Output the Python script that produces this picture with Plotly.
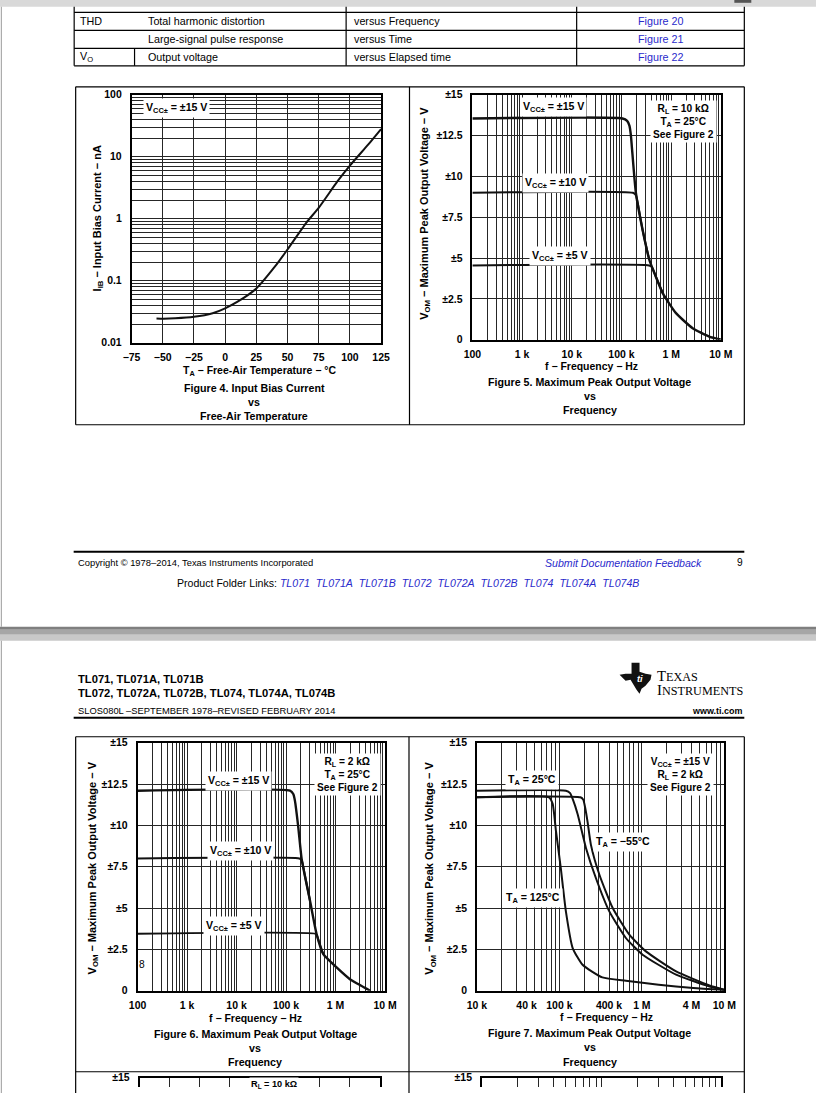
import plotly.graph_objects as go

W, H = 816, 1093

# The returned picture shows the window slightly shrunk and shifted
# (picture = 9.2 + 0.975*x, 5.2 + 0.990*y); positions below are written in
# reference-picture pixels and mapped back to window pixels by wx / wy.
SX, OX = 0.975, 9.2
SY, OY = 0.990, 5.2
FS = 1.0 / ((SX + SY) / 2)  # font scale compensation

# ------------------------------------------------------------------ data
# Figure 4: input bias current vs free-air temperature
fig4_temp_c = [-55, -50, -40, -25, -10, 0, 10, 25, 40, 50, 65, 75, 90, 100, 115, 125]
fig4_ib_na = [0.0247, 0.0245, 0.0248, 0.0262, 0.030, 0.036, 0.046, 0.075, 0.17, 0.32,
              0.86, 1.5, 4.0, 7.2, 16.0, 28.0]

# Figure 5: max peak output voltage vs frequency, RL = 10 kOhm
fig5_f_15 = [100, 1.05e5, 1.3e5, 1.45e5, 1.55e5, 1.62e5, 1.95e5, 2.67e5, 3.63e5, 4.44e5,
             6.76e5, 1.25e6, 2.7e6, 5.8e6, 1e7]
fig5_v_15 = [13.55, 13.55, 13.4, 13.1, 12.5, 11.8, 9.0, 6.7, 4.9, 4.2, 2.86, 1.63, 0.71, 0.2, 0.02]
fig5_f_10 = [100, 1.7e5, 1.95e5, 2.15e5, 2.67e5, 3.63e5]
fig5_v_10 = [9.0, 9.0, 8.85, 8.3, 6.7, 4.9]
fig5_f_5 = [100, 3.6e5, 4.1e5, 4.6e5, 6.76e5]
fig5_v_5 = [4.55, 4.55, 4.45, 4.1, 2.86]

# Figure 6: max peak output voltage vs frequency, RL = 2 kOhm
fig6_f_15 = [100, 1.2e5, 1.4e5, 1.51e5, 1.77e5, 2.07e5, 3.05e5, 4.15e5, 5.66e5, 1.05e6,
             1.95e6, 3.3e6, 5e6]
fig6_v_15 = [12.1, 12.1, 11.9, 11.5, 9.87, 7.95, 5.44, 3.42, 2.21, 1.41, 0.70, 0.3, 0.0]
fig6_f_10 = [100, 1.85e5, 2.07e5, 2.4e5, 3.05e5]
fig6_v_10 = [8.0, 8.0, 7.9, 6.99, 5.44]
fig6_f_5 = [100, 3.9e5, 4.2e5, 4.6e5, 5.66e5]
fig6_v_5 = [3.45, 3.45, 3.35, 3.0, 2.21]

# Figure 7: max peak output voltage vs frequency at three temperatures
fig7_f_25 = [1e4, 1.2e5, 1.35e5, 1.45e5, 1.67e5, 2.1e5, 2.77e5, 4.03e5, 6.4e5, 1.02e6,
             2.6e6, 6.6e6, 1e7]
fig7_v_25 = [12.1, 12.1, 11.95, 11.6, 10.66, 8.64, 6.82, 4.8, 3.19, 2.18, 0.97, 0.26, 0.05]
fig7_f_m55 = [1e4, 1.8e5, 1.95e5, 2.05e5, 2.2e5, 2.41e5, 3.05e5, 4.43e5, 7.05e5, 1.12e6,
              2.6e6, 6.6e6, 1e7]
fig7_v_m55 = [11.7, 11.7, 11.55, 11.1, 10.2, 8.84, 7.03, 5.0, 3.39, 2.38, 1.17, 0.32, 0.06]
fig7_f_125 = [1e4, 7.5e4, 8.3e4, 9.1e4, 1.04e5, 1.2e5, 1.45e5, 1.91e5, 3.32e5, 6.4e5,
              1.6e6, 4.2e6, 1e7]
fig7_v_125 = [11.7, 11.7, 11.3, 9.65, 7.43, 4.8, 2.58, 1.57, 0.81, 0.6, 0.36, 0.16, 0.04]

# tick labels
temp_ticks = [-75, -50, -25, 0, 25, 50, 75, 100, 125]
ib_labels = [(0.01, "0.01"), (0.1, "0.1"), (1, "1"), (10, "10"), (100, "100")]
vom_tickvals = [0, 2.5, 5, 7.5, 10, 12.5, 15]
vom_ticktext = ["0", "±2.5", "±5", "±7.5", "±10", "±12.5", "±15"]
freq_labels_5dec = [(100, "100"), (1e3, "1 k"), (1e4, "10 k"), (1e5, "100 k"), (1e6, "1 M"), (1e7, "10 M")]
freq_labels_fig7 = [(1e4, "10 k"), (4e4, "40 k"), (1e5, "100 k"), (4e5, "400 k"), (1e6, "1 M"),
                    (4e6, "4 M"), (1e7, "10 M")]

# ------------------------------------------------------------------ helpers
FONT = "Liberation Sans"
BLUE = "#2a2acb"
TICK = 10.3     # tick label size
LAB = 10.4      # in-plot label size
YT = 10.8       # y-axis title size
XT = 10.3       # x-axis title size
CAP = 10.5      # caption size


def wx(p):
    return (p - OX) / SX


def wy(p):
    return (p - OY) / SY


def fx(p):
    return wx(p) / W


def fy(p):
    return 1 - wy(p) / H


def log_ticks(d_lo, d_hi, labels):
    vals = []
    for d in range(d_lo, d_hi):
        for m in range(1, 10):
            vals.append(m * 10.0 ** d)
    vals.append(10.0 ** d_hi)
    texts = []
    for v in vals:
        t = ""
        for k, lab in labels:
            if abs(v - k) / k < 1e-6:
                t = lab
        texts.append(t)
    return vals, texts


def axis_common(**kw):
    d = dict(showline=True, linecolor="black", linewidth=1.5, mirror=True,
             showgrid=True, gridcolor="#262626", gridwidth=1, ticks="",
             zeroline=False, fixedrange=True, tickangle=0,
             tickfont=dict(family=FONT, size=TICK * FS, color="black", weight="bold"))
    d.update(kw)
    return d


annotations = []


def ann(x, y, text, size=9.5, xanchor="center", color="black", bg=None, angle=0,
        family=FONT, yanchor="middle", pad=1):
    a = dict(x=fx(x), y=fy(y), xref="paper", yref="paper", text=text, showarrow=False,
             xanchor=xanchor, yanchor=yanchor, textangle=angle,
             font=dict(family=family, size=size * FS, color=color))
    if bg:
        a["bgcolor"] = bg
        a["borderpad"] = pad
    annotations.append(a)


shapes = []


def rect(x0, y0, x1, y1, color):
    shapes.append(dict(type="rect", xref="paper", yref="paper", x0=fx(x0), x1=fx(x1),
                       y0=fy(y0), y1=fy(y1), fillcolor=color, line=dict(width=0), layer="below"))


def line(x0, y0, x1, y1, width=1, color="black"):
    shapes.append(dict(type="line", xref="paper", yref="paper", x0=fx(x0), x1=fx(x1),
                       y0=fy(y0), y1=fy(y1), line=dict(color=color, width=width), layer="above"))


# ------------------------------------------------------------------ figure
fig = go.Figure()

LW = 2.0
LINE = dict(color="#111111", width=LW, shape="spline", smoothing=0.5)


def add(x, y, xa, ya, width=LW):
    ln = dict(LINE)
    ln["width"] = width
    fig.add_trace(go.Scatter(x=x, y=y, mode="lines", line=ln, xaxis=xa, yaxis=ya,
                             hoverinfo="skip", showlegend=False))


add(fig4_temp_c, fig4_ib_na, "x", "y")
add(fig5_f_15, fig5_v_15, "x2", "y2", 2.4)
add(fig5_f_10, fig5_v_10, "x2", "y2")
add(fig5_f_5, fig5_v_5, "x2", "y2")
add(fig6_f_15, fig6_v_15, "x3", "y3", 2.4)
add(fig6_f_10, fig6_v_10, "x3", "y3")
add(fig6_f_5, fig6_v_5, "x3", "y3")
add(fig7_f_25, fig7_v_25, "x4", "y4")
add(fig7_f_m55, fig7_v_m55, "x4", "y4")
add(fig7_f_125, fig7_v_125, "x4", "y4")
# empty traces to realise the two partially visible charts at the bottom
fig.add_trace(go.Scatter(x=[None], y=[None], xaxis="x5", yaxis="y5", showlegend=False))
fig.add_trace(go.Scatter(x=[None], y=[None], xaxis="x6", yaxis="y6", showlegend=False))

ib_vals, ib_text = log_ticks(-2, 2, ib_labels)
f5_vals, f5_text = log_ticks(2, 7, freq_labels_5dec)
f7_vals, f7_text = log_ticks(4, 7, freq_labels_fig7)
fb_vals, fb_text = log_ticks(2, 4, [])

ref_bottom = OY + SY * H  # picture row of the window bottom
bottom_lo = 15 - (ref_bottom - 1078) / 16.5

layout = dict(
    width=W, height=H, margin=dict(l=0, r=0, t=0, b=0),
    paper_bgcolor="white", plot_bgcolor="white", showlegend=False,
    xaxis=axis_common(domain=[fx(131), fx(381)], range=[-75, 125], anchor="y",
                      tickmode="array", tickvals=temp_ticks, ticktext=[str(t).replace("-", "−") for t in temp_ticks],
                      ticklabelstandoff=4),
    yaxis=axis_common(domain=[fy(343), fy(95)], type="log", range=[-2, 2], anchor="x",
                      tickmode="array", tickvals=ib_vals, ticktext=ib_text, ticklabelstandoff=6),
    xaxis2=axis_common(domain=[fx(472.5), fx(721.5)], type="log", range=[2, 7], anchor="y2",
                       tickmode="array", tickvals=f5_vals, ticktext=f5_text, ticklabelstandoff=4),
    yaxis2=axis_common(domain=[fy(340), fy(95)], range=[0, 15], anchor="x2",
                       tickmode="array", tickvals=vom_tickvals, ticktext=vom_ticktext, ticklabelstandoff=6),
    xaxis3=axis_common(domain=[fx(137), fx(385)], type="log", range=[2, 7], anchor="y3",
                       tickmode="array", tickvals=f5_vals, ticktext=f5_text, ticklabelstandoff=4),
    yaxis3=axis_common(domain=[fy(991), fy(743)], range=[0, 15], anchor="x3",
                       tickmode="array", tickvals=vom_tickvals, ticktext=vom_ticktext, ticklabelstandoff=6),
    xaxis4=axis_common(domain=[fx(477), fx(725)], type="log", range=[4, 7], anchor="y4",
                       tickmode="array", tickvals=f7_vals, ticktext=f7_text, ticklabelstandoff=4),
    yaxis4=axis_common(domain=[fy(991), fy(743)], range=[0, 15], anchor="x4",
                       tickmode="array", tickvals=vom_tickvals, ticktext=vom_ticktext, ticklabelstandoff=6),
    xaxis5=axis_common(domain=[fx(139), fx(380)], range=[0, 8], anchor="y5", side="top",
                       mirror=False, dtick=1, showticklabels=False),
    yaxis5=axis_common(domain=[0, fy(1078)], range=[bottom_lo, 15], anchor="x5",
                       tickmode="array", tickvals=[15], ticktext=["±15"], ticklabelstandoff=6),
    xaxis6=axis_common(domain=[fx(482), fx(722)], type="log", range=[2, 4], anchor="y6", side="top",
                       mirror=False, tickmode="array", tickvals=fb_vals, ticktext=fb_text,
                       showticklabels=False),
    yaxis6=axis_common(domain=[0, fy(1078)], range=[bottom_lo, 15], anchor="x6",
                       tickmode="array", tickvals=[15], ticktext=["±15"], ticklabelstandoff=6),
)

# ------------------------------------------------------------------ page decoration
rect(-20, -20, 840, 7, "#d9d9d9")
rect(735, -20, 752, 3, "#555555")
# gap between the two pages
rect(-20, 627, 840, 630, "#7f7f7f")
rect(-20, 630, 840, 635, "#a6a6a6")
rect(-20, 635, 840, 641, "#c8c8c8")
line(0.5, 7, 0.5, 627, 1, "#9a9a9a")
line(0.5, 641, 0.5, 1100, 1, "#9a9a9a")

# table at the top of page 1
for yy in [12.5, 30.5, 48.5, 66]:
    line(73.5, yy, 745, yy, 1.2)
for xx in [73.5, 346, 577, 745]:
    line(xx, 7, xx, 66, 1.2)
line(134, 48.5, 134, 66, 1.2)
TS = 10.6
ann(77, 21, "THD", TS, "left")
ann(145, 21, "Total harmonic distortion", TS, "left")
ann(352, 21, "versus Frequency", TS, "left")
ann(661, 21, "Figure 20", TS, color=BLUE)
ann(145, 39, "Large-signal pulse response", TS, "left")
ann(352, 39, "versus Time", TS, "left")
ann(661, 39, "Figure 21", TS, color=BLUE)
ann(77, 57, "V<sub>O</sub>", TS, "left")
ann(145, 57, "Output voltage", TS, "left")
ann(352, 57, "versus Elapsed time", TS, "left")
ann(661, 57, "Figure 22", TS, color=BLUE)

# page-1 figure panel frame
line(75, 87, 745, 87, 1.2)
line(75, 425, 745, 425, 1.2)
for xx in [75, 409.5, 745]:
    line(xx, 87, xx, 425, 1.2)

# page-1 footer
line(73, 552, 745, 552, 2)
ann(75, 563, "Copyright © 1978–2014, Texas Instruments Incorporated", 9.2, "left")
ann(705, 563, "<i>Submit Documentation Feedback</i>", 10.4, "right", color=BLUE)
ann(741, 563, "9", 10)
links = ["TL071", "TL071A", "TL071B", "TL072", "TL072A", "TL072B", "TL074", "TL074A", "TL074B"]
link_txt = "&nbsp;&nbsp;".join("<i>%s</i>" % s for s in links)
ann(175, 583, 'Product Folder Links: <span style="color:%s">%s</span>' % (BLUE, link_txt), 10.4, "left")

# page-2 header
ann(75, 679, "<b>TL071, TL071A, TL071B</b>", 11, "left")
ann(75, 693, "<b>TL072, TL072A, TL072B, TL074, TL074A, TL074B</b>", 11, "left")
ann(75, 711, "SLOS080L –SEPTEMBER 1978–REVISED FEBRUARY 2014", 9.2, "left")
ann(745, 711, "<b>www.ti.com</b>", 8.8, "right")
line(73, 718, 745, 718, 2)
# TI logo
logo = [(632, 663), (640, 663), (640, 672), (646, 674), (652, 675), (651, 680), (646, 686),
        (642, 689), (640, 694), (637, 690), (634, 685), (631, 680), (626, 681), (620, 675),
        (626, 674), (632, 674)]
path = "M " + " L ".join("%f,%f" % (fx(a), fy(b)) for a, b in logo) + " Z"
shapes.append(dict(type="path", xref="paper", yref="paper", path=path,
                   fillcolor="#111111", line=dict(width=0), layer="above"))
ann(640, 679, "<b><i>ti</i></b>", 9, color="white")
ann(656, 676, 'T<span style="font-size:%.1fpx">EXAS</span>' % (12 * FS), 14.5, "left",
    family="Liberation Serif")
ann(656, 690, 'I<span style="font-size:%.1fpx">NSTRUMENTS</span>' % (12 * FS), 14.5, "left",
    family="Liberation Serif")

# page-2 figure panel frame
line(75, 737, 745, 737, 1.2)
line(75, 1072, 745, 1072, 1.2)
for xx in [75, 409, 745]:
    line(xx, 737, xx, 1100, 1.2)

# ------------------------------------------------------------------ chart texts
B = "<b>%s</b>"
# Figure 4
ann(176, 108, B % "V<sub>CC±</sub> = ±15 V", LAB, bg="white", pad=2)
ann(97, 219, B % "I<sub>IB</sub> − Input Bias Current − nA", YT, angle=-90)
ann(259, 372, B % "T<sub>A</sub> − Free-Air Temperature − °C", XT)
ann(254, 388, B % "Figure 4. Input Bias Current", CAP)
ann(254, 402, B % "vs", CAP)
ann(254, 416, B % "Free-Air Temperature", CAP)

# Figure 5
ann(554, 107, B % "V<sub>CC±</sub> = ±15 V", LAB, bg="white", pad=2)
ann(556, 183, B % "V<sub>CC±</sub> = ±10 V", LAB, bg="white", pad=2)
ann(560, 256, B % "V<sub>CC±</sub> = ±5 V", LAB, bg="white", pad=2)
ann(650, 122, B % "R<sub>L</sub> = 10 kΩ<br>T<sub>A</sub> = 25°C<br>See Figure 2", 10, "left",
    bg="white", pad=2)
ann(425, 213, B % "V<sub>OM</sub> − Maximum Peak Output Voltage − V", YT, angle=-90)
ann(592, 367, B % "f − Frequency − Hz", XT)
ann(590, 382, B % "Figure 5. Maximum Peak Output Voltage", CAP)
ann(590, 396, B % "vs", CAP)
ann(590, 410, B % "Frequency", CAP)

# Figure 6
ann(238, 781, B % "V<sub>CC±</sub> = ±15 V", LAB, bg="white", pad=2)
ann(240, 851, B % "V<sub>CC±</sub> = ±10 V", LAB, bg="white", pad=2)
ann(234, 926, B % "V<sub>CC±</sub> = ±5 V", LAB, bg="white", pad=2)
ann(314, 775, B % "R<sub>L</sub> = 2 kΩ<br>T<sub>A</sub> = 25°C<br>See Figure 2", 10, "left",
    bg="white", pad=2)
ann(141, 965, "8", 10)
ann(92, 868, B % "V<sub>OM</sub> − Maximum Peak Output Voltage − V", YT, angle=-90)
ann(255, 1019, B % "f − Frequency − Hz", XT)
ann(255, 1034, B % "Figure 6. Maximum Peak Output Voltage", CAP)
ann(255, 1048, B % "vs", CAP)
ann(255, 1062, B % "Frequency", CAP)

# Figure 7
ann(532, 780, B % "T<sub>A</sub> = 25°C", LAB, bg="white", pad=2)
ann(623, 842, B % "T<sub>A</sub> = −55°C", LAB, bg="white", pad=2)
ann(533, 898, B % "T<sub>A</sub> = 125°C", LAB, bg="white", pad=2)
ann(647, 775, B % "V<sub>CC±</sub> = ±15 V<br>R<sub>L</sub> = 2 kΩ<br>See Figure 2", 10, "left",
    bg="white", pad=2)
ann(430, 868, B % "V<sub>OM</sub> − Maximum Peak Output Voltage − V", YT, angle=-90)
ann(607, 1018, B % "f − Frequency − Hz", XT)
ann(590, 1033, B % "Figure 7. Maximum Peak Output Voltage", CAP)
ann(590, 1047, B % "vs", CAP)
ann(590, 1062, B % "Frequency", CAP)

# partially visible charts at the bottom
ann(274, 1085, B % "R<sub>L</sub> = 10 kΩ", 9, bg="white", pad=1)

layout["shapes"] = shapes
layout["annotations"] = annotations
fig.update_layout(**layout)

# let the 816x1093 figure fill the 816x1093 window exactly (no body margin / scrollbars)
RESET = ("document.documentElement.style.margin='0';document.documentElement.style.padding='0';"
         "document.documentElement.style.overflow='hidden';"
         "document.body.style.margin='0';document.body.style.padding='0';"
         "document.body.style.overflow='hidden';")
fig.write_html("out.html", post_script=RESET, config={"displayModeBar": False})
